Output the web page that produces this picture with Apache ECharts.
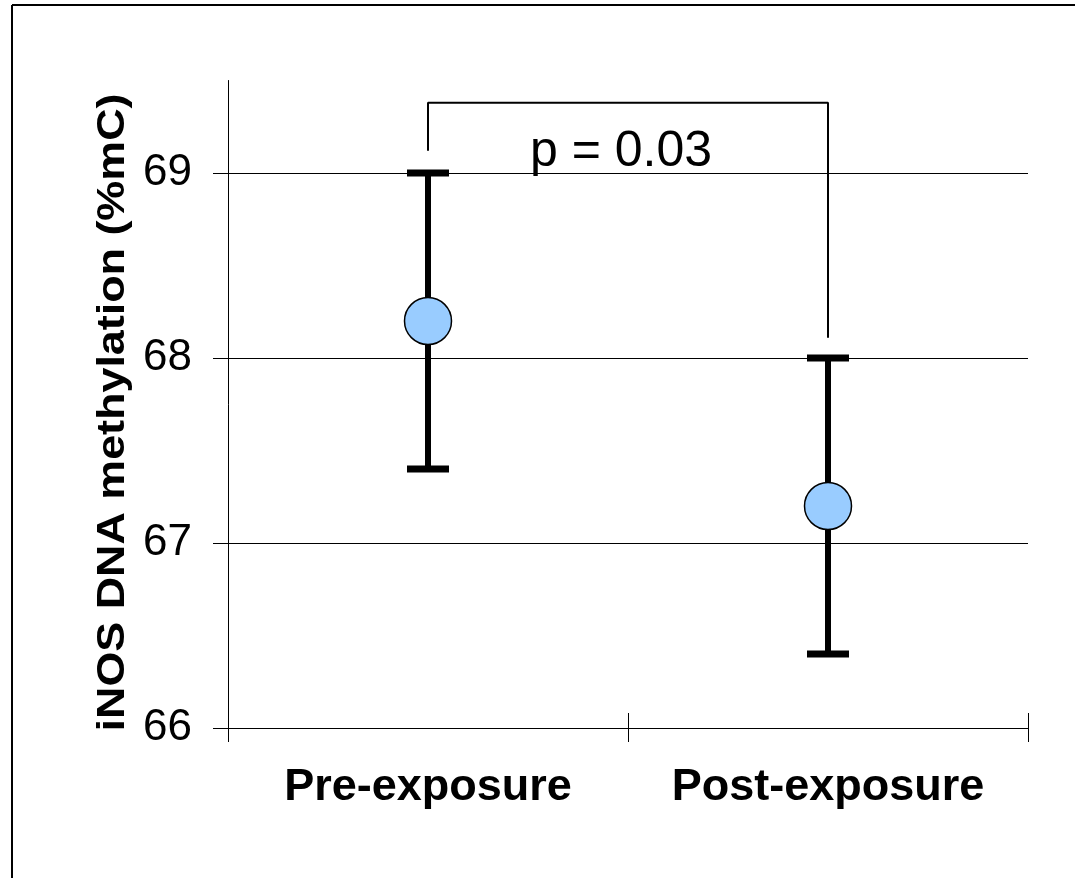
<!DOCTYPE html>
<html>
<head>
<meta charset="utf-8">
<script src="https://cdn.jsdelivr.net/npm/echarts@6/dist/echarts.min.js"></script>
<style>
  html, body { margin: 0; padding: 0; background: #fff; }
  #chart { width: 1075px; height: 878px; }
</style>
</head>
<body>
<div id="chart"></div>
<script>
// data
var categories = ['Pre-exposure', 'Post-exposure'];
var means = [68.2, 67.2];
var lower = [67.4, 66.4];
var upper = [69.0, 68.0];
// significance bracket (category index, value)
var bracketX = [0, 0, 1, 1];
var bracketY = [69.12, 69.38, 69.38, 68.11];
var pLabel = 'p = 0.03';
var yMin = 66, yMax = 69.5, yStep = 1;
var yTicks = [66, 67, 68, 69];
var yName = 'iNOS DNA methylation (%mC)';

var FONT = '"Liberation Sans", Arial, sans-serif';

var chart = echarts.init(document.getElementById('chart'));

var errData = categories.map(function (c, i) { return [i, lower[i], upper[i]]; });
var meanData = categories.map(function (c, i) { return [i, means[i]]; });
var bracketData = bracketX.map(function (x, i) { return [x, bracketY[i]]; });

var option = {
  animation: false,
  backgroundColor: '#fff',
  grid: { left: 228, right: 47, top: 80.5, bottom: 150 },
  xAxis: [{
    type: 'category',
    data: categories,
    boundaryGap: true,
    axisLine: { lineStyle: { color: '#000', width: 1 } },
    axisTick: { show: true, length: 14, lineStyle: { color: '#000', width: 1 } },
    axisLabel: { interval: 0, color: '#000', fontFamily: FONT, fontWeight: 'bold', fontSize: 45, margin: 37 },
    splitLine: { show: false }
  }, {
    // inner half of the x ticks
    type: 'category',
    data: categories,
    position: 'top',
    offset: -647.5,
    boundaryGap: true,
    axisLine: { show: false },
    axisTick: { show: true, length: 15, lineStyle: { color: '#000', width: 1 } },
    axisLabel: { show: false },
    splitLine: { show: false }
  }],
  yAxis: {
    type: 'value',
    min: yMin,
    max: yMax,
    interval: yStep,
    axisLine: { show: true, lineStyle: { color: '#000', width: 1 } },
    axisTick: { show: true, length: 15, customValues: yTicks, lineStyle: { color: '#000', width: 1 } },
    axisLabel: {
      customValues: yTicks,
      color: '#000', fontFamily: FONT, fontSize: 44, margin: 36,
      formatter: function (v) { return Number.isInteger(v) ? String(v) : ''; }
    },
    splitLine: {
      show: true,
      lineStyle: { color: ['#000', '#000', '#000', '#000', 'rgba(0,0,0,0)'], width: 1 }
    }
  },
  series: [{
    type: 'custom',
    name: 'error',
    data: errData,
    encode: { x: 0, y: [1, 2] },
    renderItem: function (params, api) {
      var x = api.value(0);
      var lo = api.coord([x, api.value(1)]);
      var hi = api.coord([x, api.value(2)]);
      var w = 21;
      return {
        type: 'group',
        children: [
          { type: 'line', shape: { x1: lo[0], y1: lo[1], x2: hi[0], y2: hi[1] }, style: { stroke: '#000', lineWidth: 6 } },
          { type: 'line', shape: { x1: lo[0] - w, y1: lo[1], x2: lo[0] + w, y2: lo[1] }, style: { stroke: '#000', lineWidth: 7 } },
          { type: 'line', shape: { x1: hi[0] - w, y1: hi[1], x2: hi[0] + w, y2: hi[1] }, style: { stroke: '#000', lineWidth: 7 } }
        ]
      };
    },
    z: 3
  }, {
    type: 'scatter',
    name: 'mean',
    data: meanData,
    symbol: 'circle',
    symbolSize: 47,
    itemStyle: { color: '#99CCFF', borderColor: '#000', borderWidth: 1.5, opacity: 1 },
    z: 4
  }, {
    type: 'line',
    name: 'bracket',
    data: bracketData,
    symbol: 'none',
    lineStyle: { color: '#000', width: 2 },
    silent: true,
    z: 2
  }],
  graphic: [
    // page frame (top and left only)
    { type: 'line', shape: { x1: 12, y1: 5, x2: 1075, y2: 5 }, style: { stroke: '#000', lineWidth: 2 } },
    { type: 'line', shape: { x1: 12, y1: 5, x2: 12, y2: 878 }, style: { stroke: '#000', lineWidth: 2 } },
    {
      type: 'text', x: 113.5, y: 412.5, rotation: Math.PI / 2, scaleX: 1.15,
      style: { text: yName, fill: '#000', font: 'bold 39px ' + FONT, textAlign: 'center', textVerticalAlign: 'middle' }
    },
    {
      type: 'text', x: 621, y: 152,
      style: { text: pLabel, fill: '#000', font: '50px ' + FONT, textAlign: 'center', textVerticalAlign: 'middle' }
    }
  ]
};

chart.setOption(option);
</script>
</body>
</html>
